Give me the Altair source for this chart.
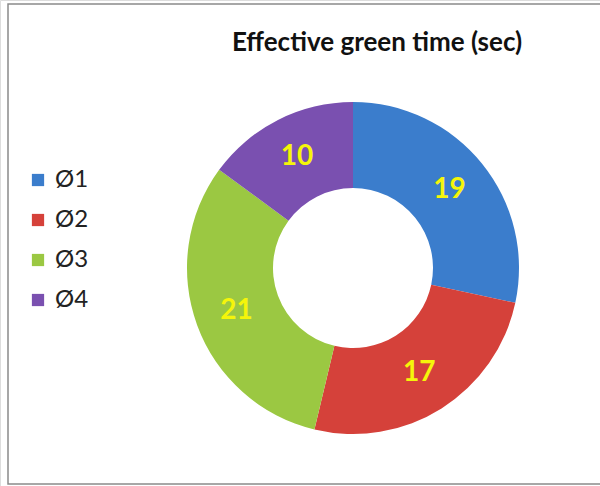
import altair as alt
import pandas as pd

phases = ["Ø1", "Ø2", "Ø3", "Ø4"]
green_times = [19, 17, 21, 10]
colors = ["#3B7DCC", "#D5413A", "#9BC842", "#7A50B0"]
title_text = ["Effective green time (sec)"]

df = pd.DataFrame({"phase": phases, "value": green_times, "order": [1, 2, 3, 4]})

CX, CY = 353, 268

base = alt.Chart(df).encode(
    theta=alt.Theta("value:Q", stack=True),
    order=alt.Order("order:Q"),
)

arc = base.mark_arc(innerRadius=80, outerRadius=166).encode(
    color=alt.Color(
        "phase:N",
        scale=alt.Scale(domain=phases, range=colors),
        legend=alt.Legend(
            title=None,
            orient="none",
            legendX=26,
            legendY=168,
            symbolType="square",
            symbolSize=150,
            symbolStrokeWidth=0,
            labelFont="Lato",
            labelFontSize=24,
            labelColor="#222222",
            rowPadding=16,
            labelOffset=5,
        ),
    ),
    x=alt.value(CX),
    y=alt.value(CY),
)

labels = base.mark_text(
    radius=124, font="Lato", fontSize=28, fontWeight="bold", color="#F5F50A"
).encode(text="value:Q", x=alt.value(CX), y=alt.value(CY))

title = alt.Chart(pd.DataFrame({"t": title_text})).mark_text(
    font="Lato", fontSize=26, fontWeight="bold", color="#111111"
).encode(text="t:N", x=alt.value(377), y=alt.value(43))

border = alt.Chart(pd.DataFrame({"a": [0]})).mark_rect(
    fill="transparent", stroke="#8a8a8a", strokeWidth=1.5
).encode(x=alt.value(8), x2=alt.value(612), y=alt.value(4), y2=alt.value(484))

chart = (
    alt.layer(border, arc, labels, title)
    .properties(width=600, height=486, autosize=alt.AutoSizeParams(type="none"), padding=0)
    .configure_view(stroke=None)
    .configure(background="white")
)

chart.save("out.html", embed_options={"renderer": "svg", "actions": False})
